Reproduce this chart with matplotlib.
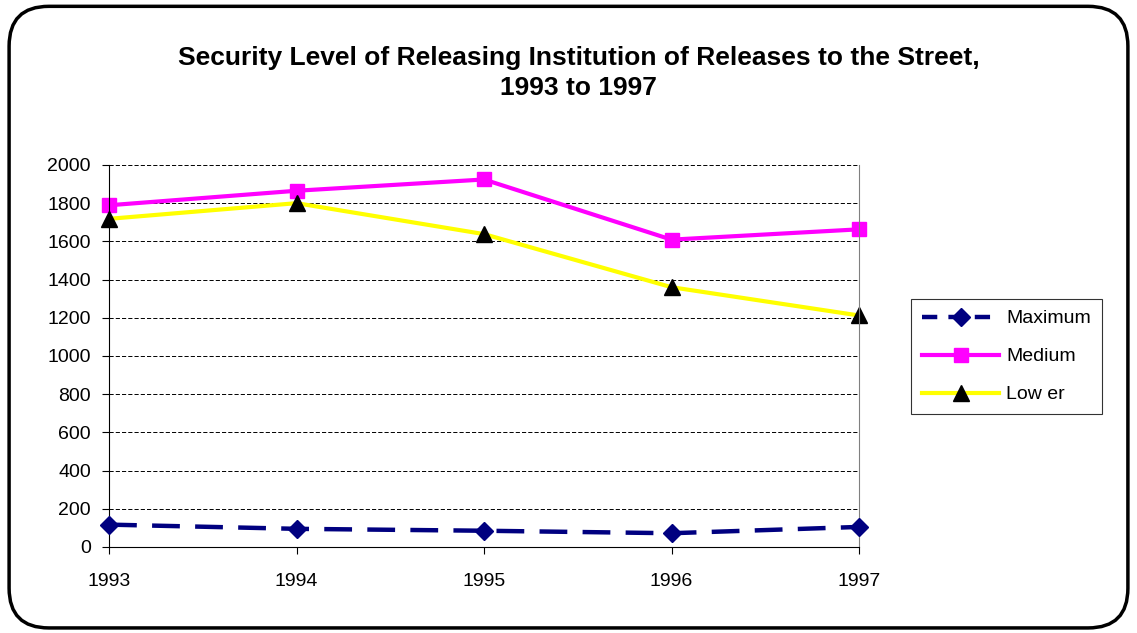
import matplotlib.pyplot as plt
from matplotlib.patches import FancyBboxPatch
from matplotlib.lines import Line2D

plt.rcParams['font.family'] = ['Liberation Sans', 'DejaVu Sans']
plt.rcParams['lines.scale_dashes'] = False

years = ['1993', '1994', '1995', '1996', '1997']
maximum = [117, 95, 85, 72, 105]
medium = [1789, 1865, 1924, 1609, 1663]
lower = [1718, 1800, 1638, 1360, 1212]

fig = plt.figure(figsize=(11.37, 6.33), dpi=100)

# rounded outer frame
frame = FancyBboxPatch((0.008, 0.008), 0.984, 0.982,
                       boxstyle="round,pad=0,rounding_size=0.035",
                       transform=fig.transFigure, fill=False,
                       edgecolor='black', linewidth=2.5, mutation_aspect=1137/633)
fig.patches.append(frame)

ax = fig.add_axes([0.0959, 0.1359, 0.6596, 0.6035])
x = list(range(len(years)))

max_dash = (0, (20, 11))

# dashed line and its markers drawn separately
ax.plot(x, maximum, color='#000080', linewidth=3.2, linestyle=max_dash,
        dash_capstyle='butt', zorder=2)
ax.plot(x, maximum, color='#000080', linestyle='none', marker='D',
        markersize=9, clip_on=False, zorder=3)
ax.plot(x, medium, color='#ff00ff', linewidth=3,
        marker='s', markersize=10, clip_on=False)
ax.plot(x, lower, color='#ffff00', linewidth=3,
        marker='^', markersize=11, markerfacecolor='black',
        markeredgecolor='black', clip_on=False)

ax.set_xlim(0, 4)
ax.set_ylim(0, 2000)
ax.set_yticks(range(0, 2001, 200))
ax.set_xticks(x)
ax.set_xticklabels(years)
ax.tick_params(axis='both', labelsize=14, direction='out', length=5)
ax.tick_params(axis='x', pad=14)
ax.tick_params(axis='y', pad=8)
ax.yaxis.grid(True, color='black', linestyle=(0, (3, 1.5)), linewidth=0.7)
ax.spines['top'].set_visible(False)
ax.spines['right'].set_color('#808080')
for s in ['left', 'bottom']:
    ax.spines[s].set_color('black')

fig.text(0.509, 0.8847,
         'Security Level of Releasing Institution of Releases to the Street,\n1993 to 1997',
         ha='center', va='center', fontsize=19, fontweight='bold', linespacing=1.35)

handles = [
    Line2D([], [], color='#000080', linewidth=3.2, linestyle=(0, (11, 8)),
           marker='D', markersize=9),
    Line2D([], [], color='#ff00ff', linewidth=3, marker='s', markersize=10),
    Line2D([], [], color='#ffff00', linewidth=3, marker='^', markersize=11,
           markerfacecolor='black', markeredgecolor='black'),
]
labels = ['Maximum', 'Medium', 'Low er']
leg = ax.legend(handles, labels, loc='upper left',
                bbox_to_anchor=(911 / 1137, 1 - 299 / 633),
                bbox_transform=fig.transFigure, frameon=True,
                fancybox=False, edgecolor='black', fontsize=14,
                handlelength=4.0, handletextpad=0.35, borderaxespad=0,
                borderpad=0.55, labelspacing=1.05)
leg.get_frame().set_linewidth(0.8)

fig.savefig('out.png', dpi=100)
